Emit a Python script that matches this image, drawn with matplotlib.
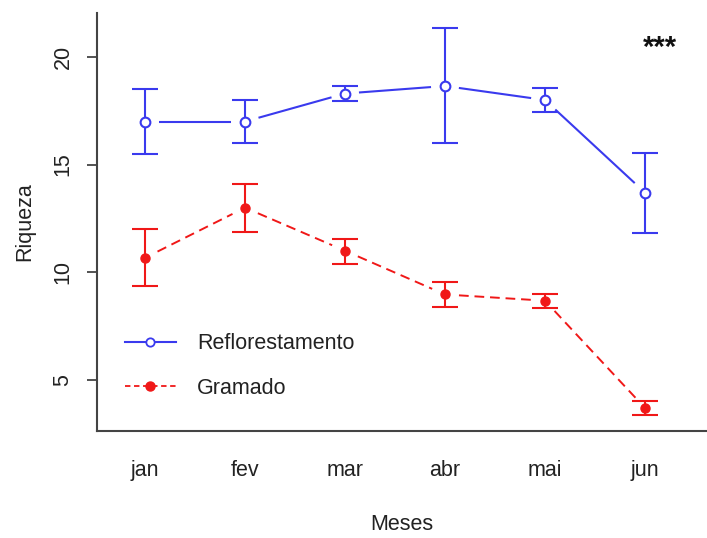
import matplotlib
matplotlib.use("Agg")
import matplotlib.pyplot as plt
import numpy as np

plt.rcParams['font.family'] = ['Liberation Sans', 'DejaVu Sans']

meses = ["jan", "fev", "mar", "abr", "mai", "jun"]
refl_mean = [17.0, 17.0, 18.3, 18.65, 18.0, 13.7]
refl_low = [15.5, 16.0, 17.96, 16.0, 17.42, 11.83]
refl_high = [18.52, 18.0, 18.65, 21.33, 18.56, 15.53]
gram_mean = [10.67, 13.0, 11.0, 8.97, 8.68, 3.70]
gram_low = [9.37, 11.88, 10.39, 8.40, 8.35, 3.37]
gram_high = [12.02, 14.12, 11.55, 9.56, 9.0, 4.02]

BLUE = "#3a3aee"
RED = "#f01818"
FS = 15.5

fig = plt.figure(figsize=(7.07, 5.38), dpi=100)
ax = fig.add_axes([97/707, 107/538, 610/707, 418/538])
x = np.arange(1, len(meses) + 1)
ax.set_xlim(0.52, 6.62)
ax.set_ylim(2.63, 22.04)

def gapped_line(xs, ys, color, ls, lw, gap=14):
    fig.canvas.draw()
    T = ax.transData
    pts = T.transform(np.column_stack([xs, ys]))
    inv = T.inverted()
    for i in range(len(pts) - 1):
        p0, p1 = pts[i], pts[i + 1]
        d = p1 - p0
        L = np.hypot(*d)
        u = d / L
        a = inv.transform(p0 + u * gap)
        b = inv.transform(p1 - u * gap)
        ax.plot([a[0], b[0]], [a[1], b[1]], color=color, ls=ls, lw=lw,
                solid_capstyle='butt', dash_capstyle='butt')

rm = np.array(refl_mean)
gm = np.array(gram_mean)
ax.errorbar(x, rm, yerr=[rm - np.array(refl_low), np.array(refl_high) - rm],
            fmt='none', ecolor=BLUE, elinewidth=1.5, capsize=9.7, capthick=1.5)
ax.errorbar(x, gm, yerr=[gm - np.array(gram_low), np.array(gram_high) - gm],
            fmt='none', ecolor=RED, elinewidth=1.5, capsize=9.7, capthick=1.5)
gapped_line(x, rm, BLUE, '-', 1.5)
gapped_line(x, gm, RED, (0, (5, 3)), 1.4)
ax.plot(x, rm, ls='none', marker='o', ms=7, mfc='white', mec=BLUE, mew=1.5)
ax.plot(x, gm, ls='none', marker='o', ms=6.5, mfc=RED, mec=RED)

# legend proxies
h1, = ax.plot([], [], color=BLUE, ls='-', lw=1.5, marker='o', ms=6, mfc='white', mec=BLUE, mew=1.3)
h2, = ax.plot([], [], color=RED, ls=(0, (3, 2)), lw=1.3, marker='o', ms=6.5, mfc=RED, mec=RED)
ax.legend([h1, h2], ["Reflorestamento", "Gramado"], loc='upper left',
          bbox_to_anchor=(0.046, 0.234), frameon=False, fontsize=FS,
          handlelength=2.35, handletextpad=1.0, labelspacing=1.1,
          borderpad=0, borderaxespad=0, labelcolor='#222222')

ax.text(6.15, 20.4, "***", ha='center', va='center', fontsize=21,
        fontweight='bold', color='#111111')

for s in ['top', 'right']:
    ax.spines[s].set_visible(False)
for s in ['left', 'bottom']:
    ax.spines[s].set_color('#444444')
    ax.spines[s].set_linewidth(1.5)

ax.set_xticks(x)
ax.set_xticklabels(meses)
ax.set_yticks([5, 10, 15, 20])
ax.tick_params(axis='x', length=0, pad=21, labelsize=FS, labelcolor='#222222')
ax.tick_params(axis='y', length=7, width=1.3, color='#444444', pad=10,
               labelsize=FS, labelcolor='#222222')
for lab in ax.get_yticklabels():
    lab.set_rotation(90)
    lab.set_va('center')

ax.set_xlabel("Meses", fontsize=FS, color='#222222', labelpad=24)
ax.set_ylabel("Riqueza", fontsize=FS, color='#222222', labelpad=12)

fig.savefig("out.png", dpi=100)
